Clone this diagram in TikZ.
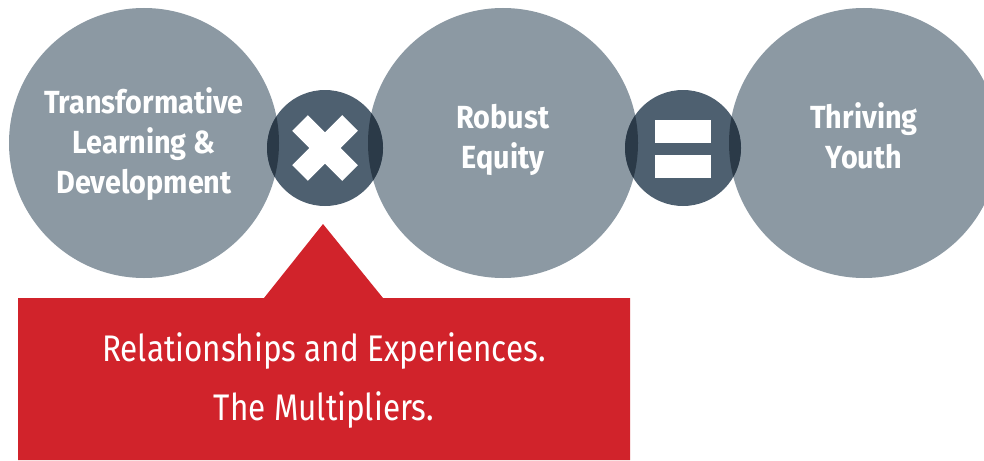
\documentclass[tikz,border=0pt]{standalone}
\usepackage{fontspec}
\newfontfamily\headfont[FakeStretch=0.9]{Fira Sans}
\newfontfamily\callfont[FakeStretch=0.85]{Fira Sans}
\usetikzlibrary{positioning}
\definecolor{discgray}{RGB}{140,153,163}
\definecolor{opslate}{RGB}{78,96,112}
\definecolor{opdark}{RGB}{43,58,72}
\definecolor{callred}{RGB}{209,35,43}
\begin{document}
\begin{tikzpicture}[x=1pt,y=-1pt,
  bigdisc/.style={circle,fill=discgray,minimum size=270pt,inner sep=0,text=white,align=center,
    font=\headfont\bfseries\fontsize{32}{40}\selectfont},
  opdisc/.style={circle,fill=opslate,minimum size=116pt,inner sep=0},
  bar/.style={fill=white},
  calltext/.style={text=white,align=center,font=\callfont\fontsize{37}{59}\selectfont}]
\useasboundingbox (0,0) rectangle (984,460);
\clip (0,0) rectangle (984,460);
%%
\def\ovl#1#2{\begin{scope}\clip (#1.center) circle (135pt); \fill[opdark] (#2.center) circle (58pt);\end{scope}}
%%
  \node[bigdisc] (tld) at (144,143) {};
  \node[bigdisc] (equity) at (503,143) {};
  \node[bigdisc] (youth) at (864,143) {};
  \node[opdisc] (times) at (325,148) {};
  \node[opdisc] (equals) at (683,148) {};
%
\ovl{tld}{times} \ovl{equity}{times}
\ovl{equity}{equals} \ovl{youth}{equals}
%
\node[bigdisc,fill=none,minimum size=0pt,yshift=-1pt] (tldtext) at (tld) {Transformative\\Learning \&\\Development};
\node[bigdisc,fill=none,minimum size=0pt,yshift=3pt] (equitytext) at (equity) {Robust\\Equity};
\node[bigdisc,fill=none,minimum size=0pt,yshift=7pt] (youthtext) at (youth) {Thriving\\Youth};
%
\draw[white,line width=22pt] ([shift={(-25,-25)}]times.center) -- ([shift={(25,25)}]times.center);
\draw[white,line width=22pt] ([shift={(-25,25)}]times.center) -- ([shift={(25,-25)}]times.center);
\fill[bar] ([shift={(-28,-28)}]equals.center) rectangle ([shift={(28,-5)}]equals.center);
\fill[bar] ([shift={(-28,7)}]equals.center) rectangle ([shift={(28,30)}]equals.center);
%%
\coordinate (tip) at (323,224);
\fill[callred] (18,298) -- (264,298) -- (tip) -- (383,298) -- (630,298) -- (630,460) -- (18,460) -- cycle;
\node[calltext] (mult) at (324,381) {Relationships and Experiences.\\The Multipliers.};
\end{tikzpicture}
\end{document}
